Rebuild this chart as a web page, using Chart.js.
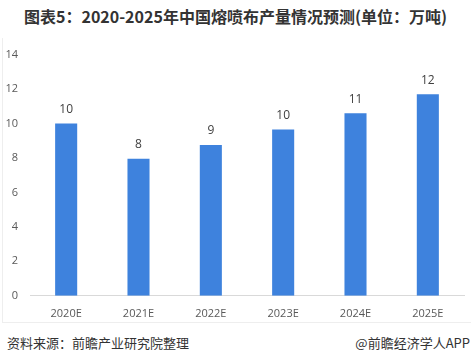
<!DOCTYPE html>
<html lang="zh">
  <head>
    <meta charset="UTF-8" />
    <script src="https://cdn.jsdelivr.net/npm/chart.js"></script>
    <title>熔喷布产量</title>
    <style>
      body { margin: 0; background: #fff; }
      #wrap { position: relative; width: 471px; height: 362px; overflow: hidden; font-family: "Noto Sans CJK SC", sans-serif; }
      #title { position: absolute; left: 0; top: 4px; width: 471px; text-align: center; font-size: 16px; font-weight: bold; color: #333; }
      #frame { position: absolute; left: 2px; top: 38px; width: 480px; height: 284px; border-left: 1px solid #eeeeee; border-bottom: 1px solid #eeeeee; }
      #box { position: absolute; left: 0; top: 36px; width: 471px; height: 295px; }
      #src { position: absolute; left: 7px; top: 333px; font-size: 13px; color: #333; }
      #app { position: absolute; right: 1px; top: 333px; font-size: 13px; color: #333; }
    </style>
  </head>
  <body>
    <div id="wrap">
      <div id="title">图表5：2020-2025年中国熔喷布产量情况预测(单位：万吨)</div>
      <div id="frame"></div>
      <div id="box"><canvas id="myChart"></canvas></div>
      <div id="src">资料来源：前瞻产业研究院整理</div>
      <div id="app">@前瞻经济学人APP</div>
    </div>
    <script>
      // data
      const years = ["2020E", "2021E", "2022E", "2023E", "2024E", "2025E"];
      const output = [10, 7.95, 8.75, 9.65, 10.6, 11.7];
      const yTicks = [0, 2, 4, 6, 8, 10, 12, 14];

      // value labels over the bars
      const barLabels = {
        id: "barLabels",
        afterDatasetsDraw(chart) {
          const ctx = chart.ctx;
          const meta = chart.getDatasetMeta(0);
          ctx.save();
          ctx.font = "12px 'Open Sans'";
          ctx.fillStyle = "#404040";
          ctx.textAlign = "center";
          ctx.textBaseline = "middle";
          meta.data.forEach((bar, i) => {
            ctx.fillText(Math.round(output[i]), bar.x, bar.y - 14);
          });
          ctx.restore();
        }
      };

      const config = {
        type: "bar",
        data: {
          labels: years,
          datasets: [
            {
              label: "产量",
              backgroundColor: "#3E82DD",
              data: output,
              barPercentage: 0.305,
              categoryPercentage: 1
            }
          ]
        },
        options: {
          responsive: true,
          maintainAspectRatio: false,
          animation: false,
          layout: { padding: { top: 3, right: 7, left: 0, bottom: 0 } },
          plugins: { legend: { display: false }, tooltip: { enabled: false } },
          scales: {
            x: {
              grid: { display: false, drawTicks: false },
              border: { color: "#d9d9d9" },
              ticks: { color: "#595959", font: { size: 11, family: "Open Sans" }, padding: 11 }
            },
            y: {
              min: 0,
              max: 14,
              afterBuildTicks(scale) {
                scale.ticks = yTicks.map(v => ({ value: v }));
              },
              afterFit(scale) {
                scale.width = 30;
              },
              grid: { display: false, drawTicks: false },
              border: { display: false },
              ticks: { color: "#595959", font: { size: 11, family: "Open Sans" }, padding: 12 }
            }
          }
        },
        plugins: [barLabels]
      };
      var myChart = new Chart(document.getElementById("myChart"), config);
    </script>
  </body>
</html>
